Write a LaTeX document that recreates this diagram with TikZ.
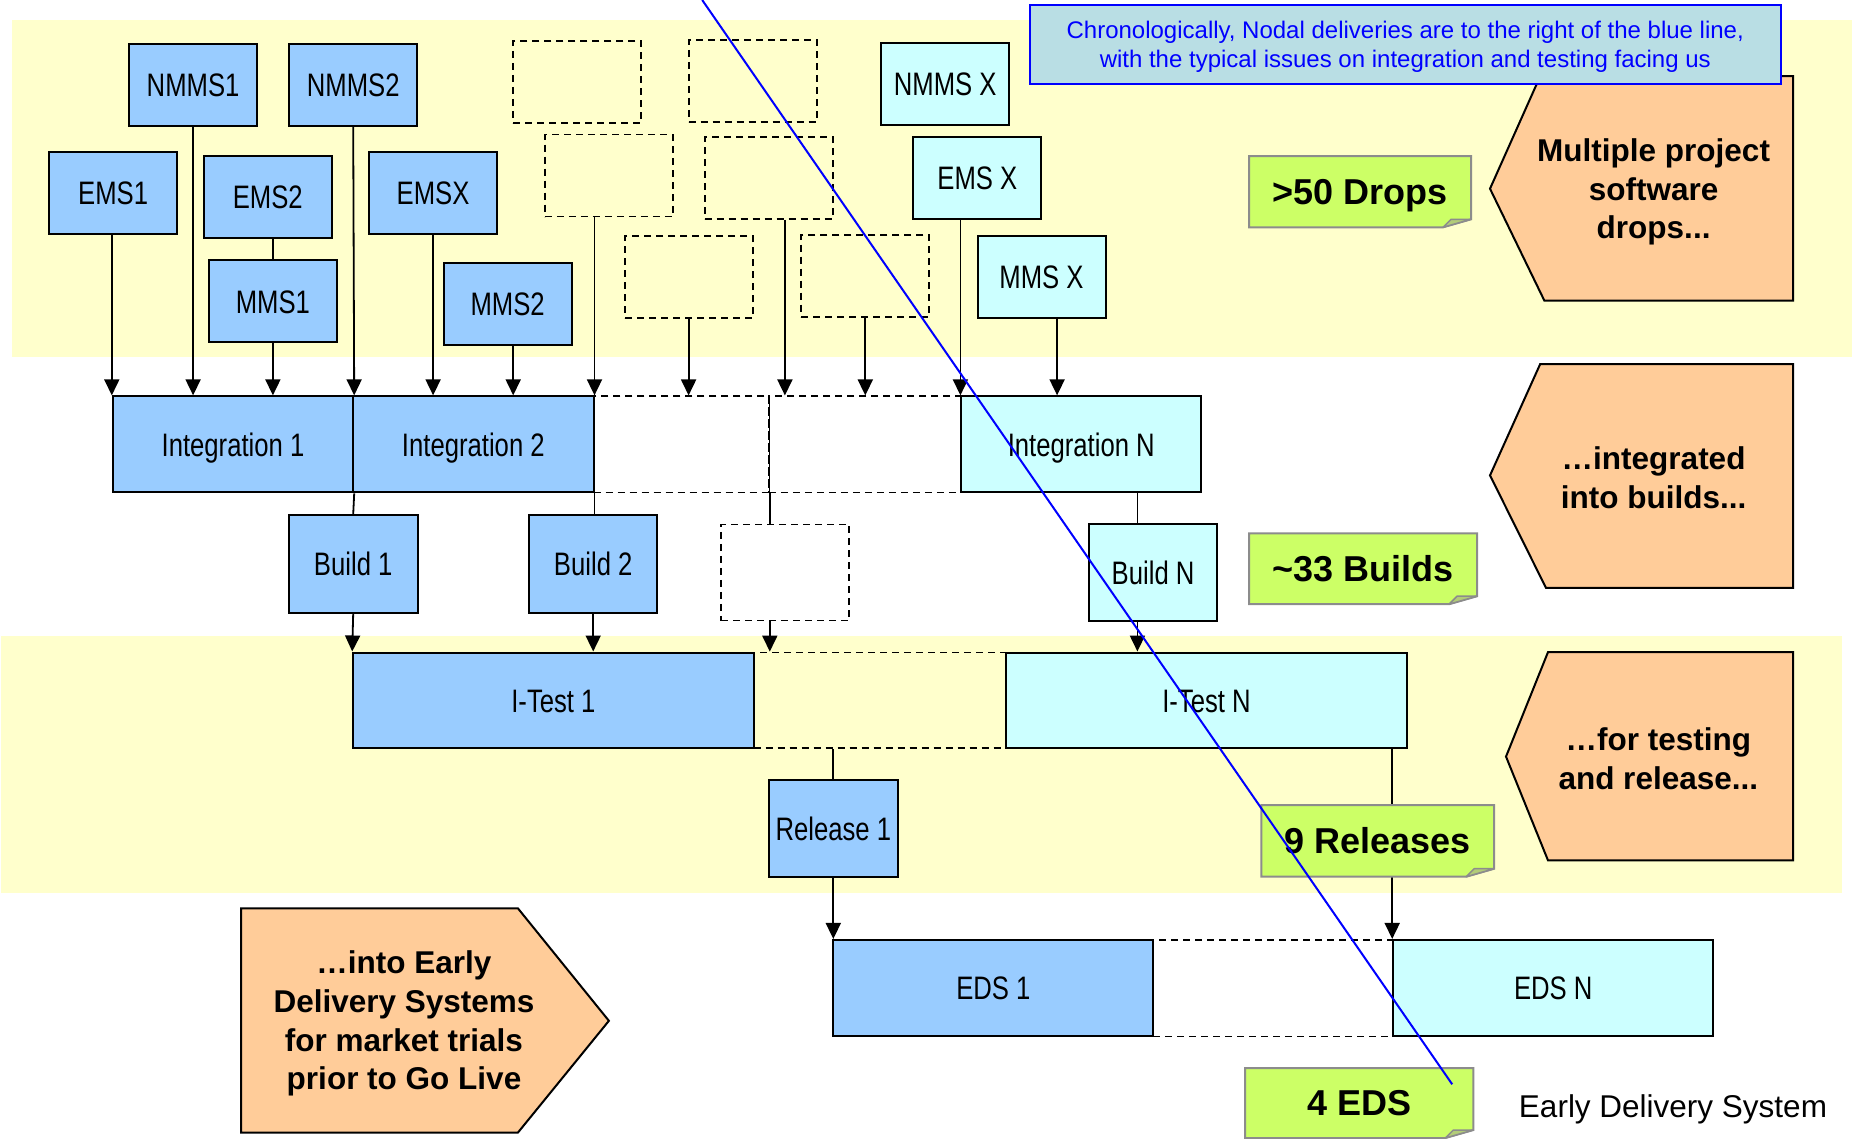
\documentclass[tikz,border=0pt]{standalone}
\usepackage{fontspec}
\setmainfont{Liberation Sans}
\newfontfamily\narrowfont[FakeStretch=0.79]{Liberation Sans}
\usetikzlibrary{arrows.meta}
\definecolor{blueA}{RGB}{153,204,255}
\definecolor{cyanA}{RGB}{204,255,255}
\definecolor{bandY}{RGB}{255,255,204}
\definecolor{orangeA}{RGB}{255,204,153}
\definecolor{greenA}{RGB}{204,255,102}
\definecolor{foldG}{RGB}{178,204,120}
\definecolor{tealA}{RGB}{185,222,228}
\definecolor{lineB}{RGB}{0,0,255}
\definecolor{noteGray}{RGB}{140,140,140}
\newcommand\lblfont{\narrowfont\fontsize{32.5}{36}\selectfont}
\newcommand\orgfont{\fontsize{31.5}{38.7}\selectfont\bfseries}
\newcommand\notefont{\fontsize{36}{40}\selectfont\bfseries}
\newcommand\mynote[6]{%
  \draw[notebox] (#2,#3) -- (#4,#3) -- (#4,#5-8) -- (#4-28,#5) -- (#2,#5) -- cycle;
  \draw[notefold] (#4-28,#5) -- (#4-20,#5-8) -- (#4,#5-8) -- cycle;
  \node[notetext] (#1) at ({(#2+#4)/2},{(#3+#5)/2}) {#6};
}
\begin{document}
\begin{tikzpicture}[x=1pt,y=-1pt,
  box/.style={draw=black, line width=2pt, fill=blueA, inner sep=0pt, font=\lblfont,
              text height=23.3pt, text depth=0pt,
              minimum width=128pt, minimum height=82pt},
  cbox/.style={box, fill=cyanA},
  dbox/.style={draw=black, line width=1.8pt, dash pattern=on 7pt off 5pt, inner sep=0pt,
              minimum width=128pt, minimum height=82pt},
  arr/.style={line width=1.8pt, -{Triangle[length=16pt,width=15pt]}},
  link/.style={line width=1.8pt},
  notebox/.style={draw=noteGray, line width=2pt, fill=greenA},
  notefold/.style={draw=noteGray, line width=1.5pt, fill=foldG, line join=round},
  notetext/.style={font=\notefont, inner sep=0pt, text height=25.8pt, text depth=0pt},
  pent/.style={draw=black, line width=2pt, fill=orangeA},
  penttext/.style={font=\orgfont, align=center, inner sep=0pt},
]
\useasboundingbox (0,0) rectangle (1852,1138);
% bands
\fill[bandY] (11.8,20) rectangle (1852,356.7);
\fill[bandY] (1.2,636.1) rectangle (1841.7,892.7);

% dashed placeholder boxes (drops)
\node[dbox] (d1) at (577.3,81.9) {};
\node[dbox] (d2) at (752.7,80.8) {};
\node[dbox] (d3) at (608.9,175.5) {};
\node[dbox] (d4) at (768.6,178) {};
\node[dbox] (d5) at (689.2,277) {};
\node[dbox] (d6) at (865.3,275.6) {};

% dashed integration / test / eds placeholders
\node[dbox, minimum width=175.4pt, minimum height=96.1pt] (int3) at (681.2,444.4) {};
\node[dbox, minimum width=192.5pt, minimum height=96.1pt] (int4) at (865.15,444.4) {};
\node[dbox, minimum width=128.2pt, minimum height=96.1pt] (d7) at (785.1,572.5) {};
\node[dbox, minimum width=252.7pt, minimum height=95.8pt] (itestmid) at (879.95,700.4) {};
\node[dbox, minimum width=239.8pt, minimum height=96.5pt] (edsmid) at (1273.3,988.2) {};
\draw[line width=0.8pt] (int3.north east) -- (int3.south east);

% drop boxes
\node[box] (nmms1) at (193.1,84.7) {NMMS1};
\node[box] (nmms2) at (353.2,84.7) {NMMS2};
\node[box] (ems1) at (113.1,193.2) {EMS1};
\node[box] (ems2) at (267.8,197) {EMS2};
\node[box] (emsx) at (433.1,193.2) {EMSX};
\node[box] (mms1) at (272.9,301.4) {MMS1};
\node[box] (mms2) at (507.6,303.5) {MMS2};
\node[cbox] (nmmsx) at (945.2,83.7) {NMMS X};
\node[cbox] (emsxn) at (977.4,178) {EMS X};
\node[cbox] (mmsx) at (1041.5,277) {MMS X};

% integrations
\node[box, minimum width=240.4pt, minimum height=96.1pt] (int1) at (233,444.4) {Integration 1};
\node[box, minimum width=240.3pt, minimum height=96.1pt] (int2) at (473.35,444.4) {Integration 2};
\node[cbox, minimum width=239.8pt, minimum height=96.1pt] (intn) at (1081.3,444.4) {Integration N};

% builds
\node[box, minimum width=128.7pt, minimum height=97.2pt] (build1) at (353.2,563.9) {Build 1};
\node[box, minimum width=128.2pt, minimum height=97.2pt] (build2) at (593.2,563.9) {Build 2};
\node[cbox, minimum width=128.2pt, minimum height=96.1pt] (buildn) at (1153.1,572.5) {Build N};

% tests
\node[box, minimum width=400.4pt, minimum height=95.8pt] (itest1) at (553.4,700.4) {I-Test 1};
\node[cbox, minimum width=400.4pt, minimum height=95.8pt] (itestn) at (1206.5,700.4) {I-Test N};
\node[box, minimum width=128.8pt, minimum height=96.5pt] (rel1) at (833.3,828.5) {Release 1};

% EDS
\node[box, minimum width=320.1pt, minimum height=96.5pt] (eds1) at (993.35,988.2) {EDS 1};
\node[cbox, minimum width=320.1pt, minimum height=96.5pt] (edsn) at (1553.25,988.2) {EDS N};

% connectors: drops -> integrations
\draw[arr] (ems1.south -| int1.north west) -- (int1.north west);
\draw[arr] (nmms1.south) -- (nmms1.south |- int1.north);
\draw[link] (mms1.north) -- (mms1.north |- ems2.south);
\draw[arr] (mms1.south) -- (mms1.south |- int1.north);
\draw[arr] (nmms2.south) -- (int1.north east);
\draw[arr] (emsx.south) -- (emsx.south |- int2.north);
\draw[arr] ([xshift=5.6pt]mms2.south) -- ([xshift=5.6pt]mms2.south |- int2.north);
\draw[arr] (d3.south -| int2.north east) -- (int2.north east);
\draw[arr] ([xshift=-0.6pt]d5.south) -- ([xshift=-0.6pt]d5.south |- int3.north);
\draw[arr] ([xshift=16.3pt]d4.south) -- ([xshift=16.3pt]d4.south |- int4.north);
\draw[arr] (d6.south) -- (d6.south |- int4.north);
\draw[arr] (emsxn.south -| intn.north west) -- (intn.north west);
\draw[arr] ([xshift=15.6pt]mmsx.south) -- ([xshift=15.6pt]mmsx.south |- intn.north);

% integrations -> builds
\draw[link] (int1.south east) -- (build1.north);
\draw[link] (int2.south east) -- (int2.south east |- build2.north);
\draw[link] (int3.south east) -- (int3.south east |- d7.north);
\draw[link] ([xshift=-15.7pt]buildn.north) -- ([xshift=-15.7pt]buildn.north |- intn.south);

% builds -> tests
\draw[arr] (build1.south) -- (itest1.north west);
\draw[arr] (build2.south) -- (build2.south |- itest1.north);
\draw[arr] (d7.south -| int3.south east) -- (itestmid.north -| int3.south east);
\draw[arr] ([xshift=-15.7pt]buildn.south) -- ([xshift=-15.7pt]buildn.south |- itestn.north);

% tests -> release -> EDS
\draw[link] (rel1.north |- itestmid.south) -- (rel1.north);
\draw[arr] (rel1.south) -- (rel1.south |- eds1.north);
\draw[arr] (itestn.south -| edsn.north west) -- (edsn.north west);

% notes
\mynote{drops}{1249}{156}{1471}{227.3}{>50 Drops}
\mynote{builds}{1249}{533.4}{1477}{604.2}{\textasciitilde 33 Builds}
\mynote{releases}{1261.4}{805.2}{1494.2}{876.7}{9 Releases}
\mynote{edsnote}{1245}{1068}{1473.4}{1138}{4 EDS}

% pentagon callouts
\draw[pent] (1540.2,76.2) -- (1793,76.2) -- (1793,300.5) -- (1544.3,300.5) -- (1490,188.7) -- cycle;
\node[penttext] (p1) at (1653.6,192) {Multiple project\\software\\drops...};
\draw[pent] (1540.2,364) -- (1793,364) -- (1793,587.9) -- (1546,587.9) -- (1490,475.4) -- cycle;
\node[penttext] (p2) at (1653.6,478) {…integrated\\into builds...};
\draw[pent] (1548,652.1) -- (1793,652.1) -- (1793,860.4) -- (1548,860.4) -- (1506,756.6) -- cycle;
\node[penttext] (p3) at (1658.3,758.6) {…for testing\\and release...};
\draw[pent] (241,908.3) -- (517.9,908.3) -- (608.9,1020.8) -- (517.9,1132.6) -- (241,1132.6) -- cycle;
\node[penttext] (p4) at (404,1023.5) {…into Early\\Delivery Systems\\for market trials\\prior to Go Live};

% blue info box
\node[draw=lineB, line width=2pt, fill=tealA, inner sep=0pt,
      minimum width=750.7pt, minimum height=79.5pt] (info) at (1405.25,44.45) {};
\node[text=lineB, align=center, inner sep=0pt,
      font=\fontsize{24}{28.5}\selectfont] (infotext) at (1405.25,47) 
  {Chronologically, Nodal deliveries are to the right of the blue line,\\with the typical issues on integration and testing facing us};

\node[font=\fontsize{31.5}{36}\selectfont, inner sep=0pt] (edslabel) at (1673,1109.7) {Early Delivery System};

% blue chronology line
\coordinate (bl1) at (702.2,0);
\coordinate (bl2) at (1452.2,1084.3);
\draw[lineB, line width=2pt] (bl1) -- (bl2);
\end{tikzpicture}
\end{document}
